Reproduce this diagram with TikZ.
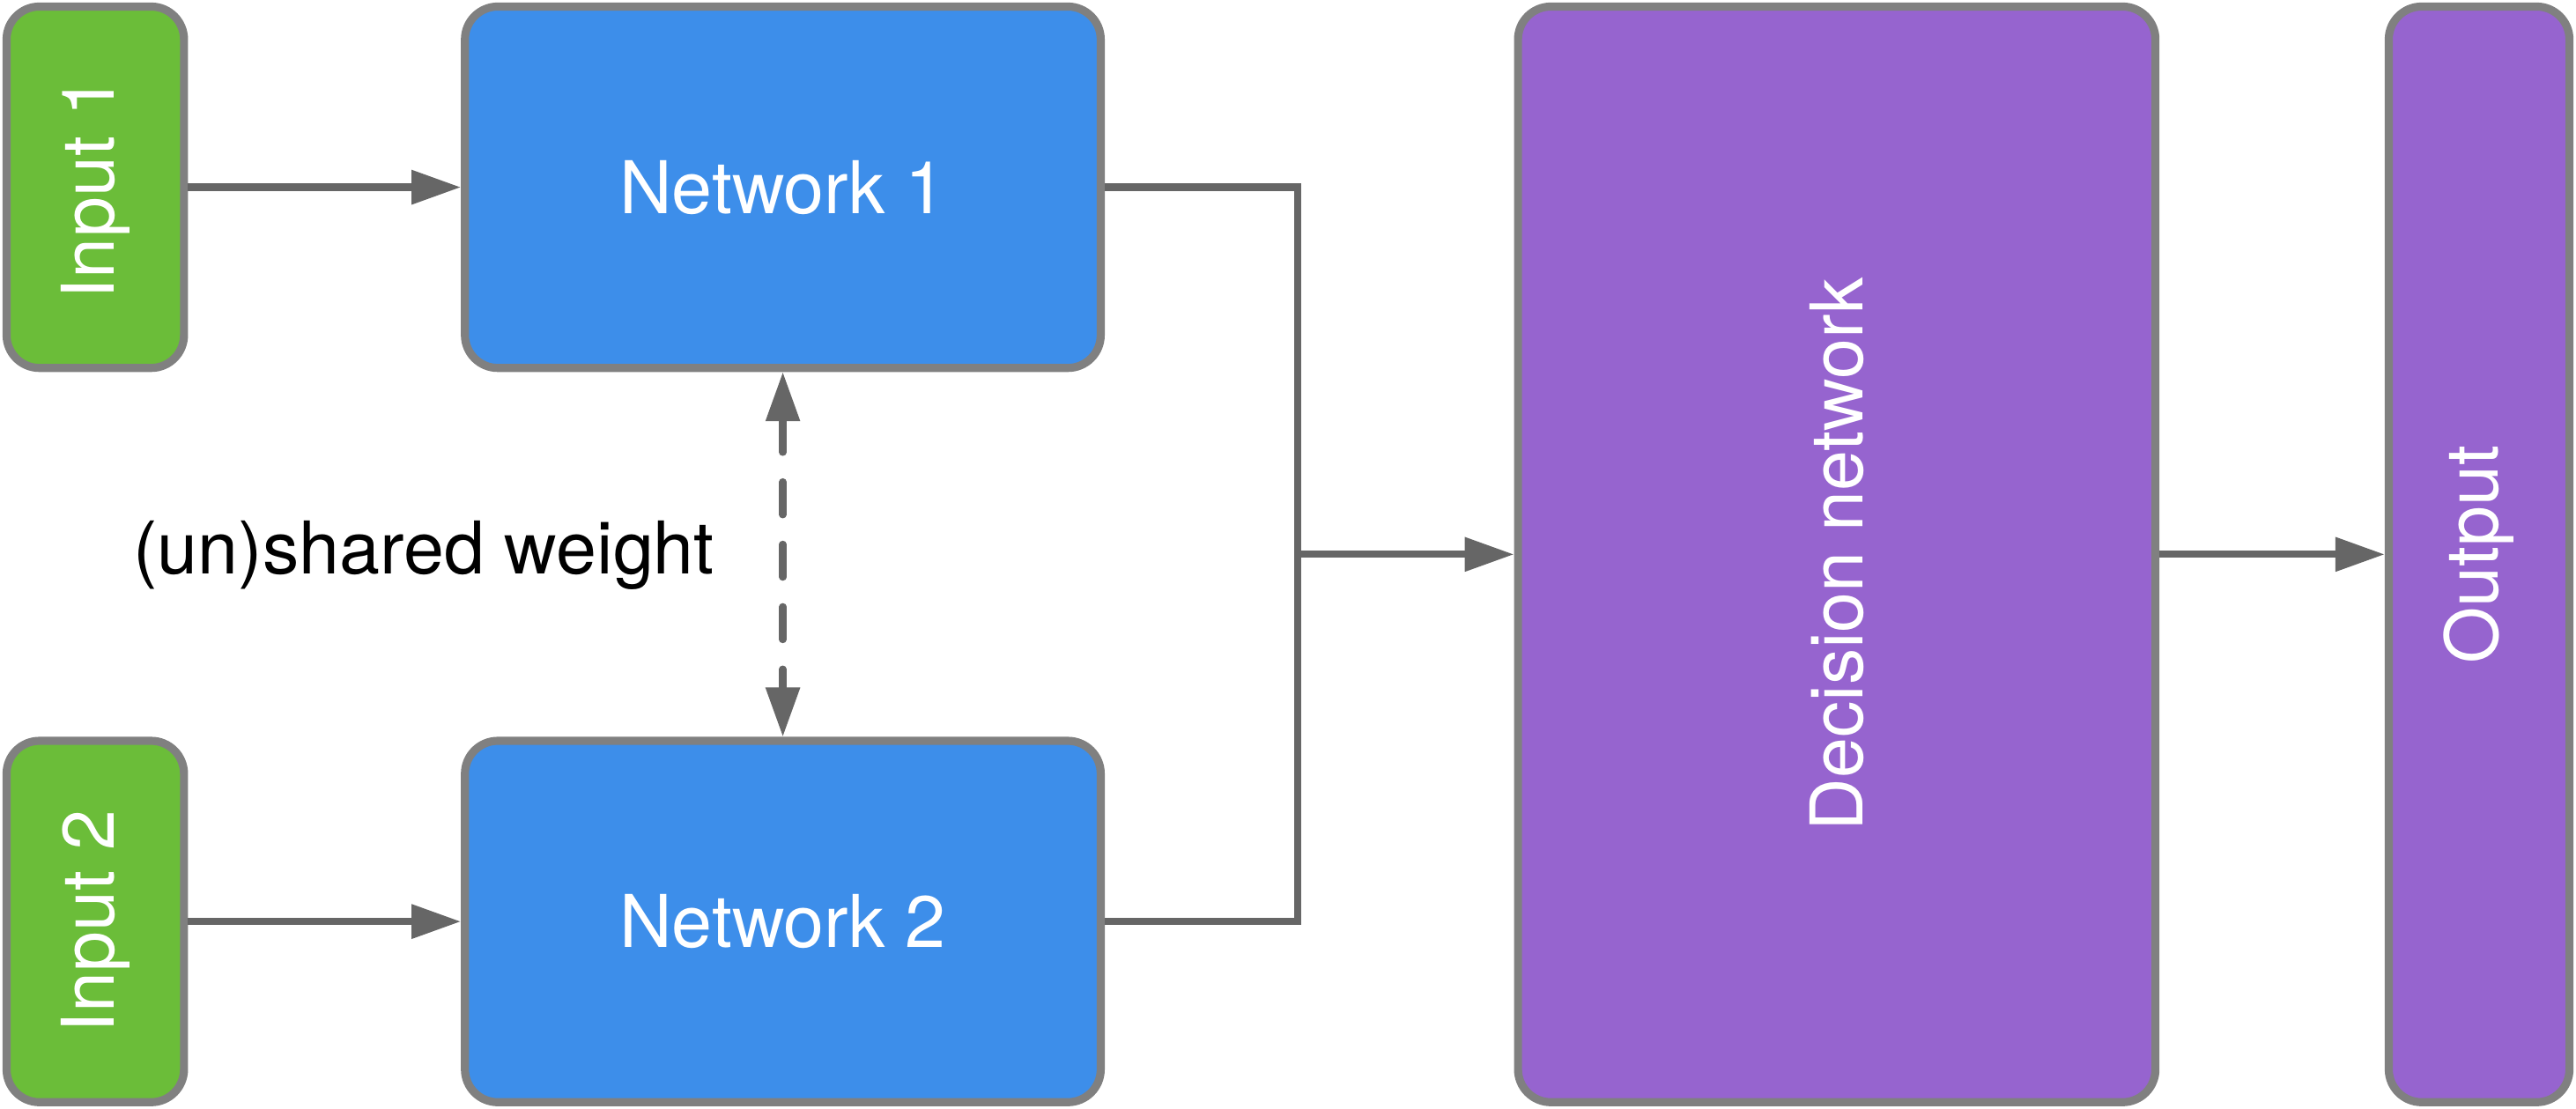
\documentclass[tikz,border=0pt]{standalone}
\usepackage{fontspec}
\setmainfont{TeX Gyre Heros}
\usepackage{xcolor}
\usepackage{tikz}
\usetikzlibrary{arrows.meta}

\definecolor{ingreen}{HTML}{6BBD39}
\definecolor{netblue}{HTML}{3D8EEA}
\definecolor{decpurple}{HTML}{9664CF}
\definecolor{edgegray}{HTML}{808080}
\definecolor{arrowgray}{HTML}{666666}

\begin{document}
\begin{tikzpicture}[blk/.style={draw=edgegray, line width=1.4pt, rounded corners=2mm, text=white,
  font=\fontsize{12.6}{15}\selectfont, inner sep=0pt},
  inbox/.style={blk, fill=ingreen, minimum width=10.8mm, minimum height=22mm},
  netbox/.style={blk, fill=netblue, minimum width=38.7mm, minimum height=22mm},
  decbox/.style={blk, fill=decpurple, minimum height=66.7mm},
  conn/.style={draw=arrowgray, line width=1.25pt}, >={Triangle[length=3mm, width=2mm]}]
  \useasboundingbox (0,0) rectangle (15.68,6.75);
  \node[inbox] (in1) at (0.58,5.61) {\rotatebox{90}{Input 1}};
  \node[inbox] (in2) at (0.58,1.14) {\rotatebox{90}{Input 2}};
  \node[netbox] (net1) at (4.765,5.61) {Network 1};
  \node[netbox] (net2) at (4.765,1.14) {Network 2};
  \node[decbox, minimum width=38.8mm] (dec) at (11.18,3.375) {\rotatebox{90}{Decision network}};
  \node[decbox, minimum width=11mm] (out) at (15.09,3.375) {\rotatebox{90}{Output}};
  \node[font=\fontsize{12.6}{15}\selectfont, inner sep=0pt] (lbl) at (2.58,3.37) {(un)shared weight};
  \coordinate (join) at (7.9,3.375);
  \draw[conn, ->] (in1) -- (net1); \draw[conn, ->] (in2) -- (net2);
  \draw[conn, <->, dash pattern=on 2mm off 1.8mm, line cap=round] (net1) -- (net2);
  \draw[conn] (net1.east) -| (join); \draw[conn] (net2.east) -| (join);
  \draw[conn, ->] (join) -- (dec); \draw[conn, ->] (dec) -- (out);
\end{tikzpicture}
\end{document}
